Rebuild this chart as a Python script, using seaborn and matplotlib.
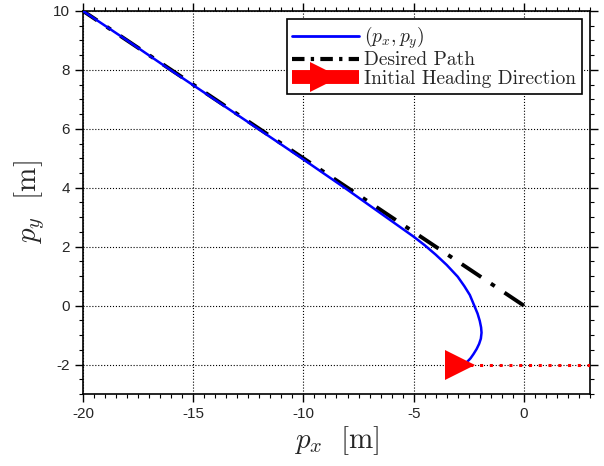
import numpy as np
import pandas as pd
import matplotlib
matplotlib.use("Agg")
import matplotlib.pyplot as plt
import seaborn as sns
from matplotlib.lines import Line2D

# trajectory
px = [-20.0, -18.0, -16.0, -14.0, -12.0, -10.0, -8.0, -7.0, -6.0, -5.0, -4.5,
      -4.0, -3.5, -3.0, -2.7, -2.45, -2.25, -2.1, -2.0, -1.94, -1.92, -1.95,
      -2.03, -2.14, -2.28, -2.42, -2.56, -2.72, -2.9]
py = [10.0, 9.0, 7.98, 6.98, 5.97, 4.96, 3.93, 3.4, 2.87, 2.34, 2.05,
      1.73, 1.38, 0.98, 0.66, 0.36, 0.0, -0.27, -0.52, -0.74, -0.92, -1.12,
      -1.3, -1.47, -1.64, -1.79, -1.9, -1.97, -2.0]

desired_x = [0.0, -20.0]
desired_y = [0.0, 10.0]

heading_x = [-2.9, 3.0]
heading_y = [-2.0, -2.0]

sns.set_style("ticks")
plt.rcParams["mathtext.fontset"] = "cm"
plt.rcParams["axes.unicode_minus"] = False
plt.rcParams["font.family"] = ["Liberation Sans", "DejaVu Sans"]

fig = plt.figure(figsize=(6.04, 4.66), dpi=100)
ax = fig.add_axes([0.1374, 0.1545, 0.8394, 0.822])

traj = pd.DataFrame({"x": px, "y": py})
des = pd.DataFrame({"x": desired_x, "y": desired_y})
head = pd.DataFrame({"x": heading_x, "y": heading_y})

sns.lineplot(data=head, x="x", y="y", ax=ax, color="red", lw=2.2,
             linestyle=(0, (1, 2.2)), sort=False, estimator=None, zorder=3)
sns.lineplot(data=des, x="x", y="y", ax=ax, color="black", lw=2.8,
             linestyle=(0, (6, 3, 1.2, 3)), sort=False, estimator=None, zorder=4)
sns.lineplot(data=traj, x="x", y="y", ax=ax, color="blue", lw=1.8,
             sort=False, estimator=None, zorder=5)
ax.plot(heading_x[0], heading_y[0], marker=">", color="red", ms=22,
        markeredgewidth=0, zorder=6)

ax.set_xlim(-20, 3)
ax.set_ylim(-3, 10)
ax.set_xticks(np.arange(-20, 1, 5))
ax.set_yticks(np.arange(-2, 11, 2))
ax.set_xticks(np.arange(-20, 3.01, 0.5), minor=True)
ax.set_yticks(np.arange(-3, 10.01, 0.5), minor=True)
ax.tick_params(which="both", direction="out", top=True, right=True,
               labeltop=False, labelright=False, color="black", labelsize=11)
ax.tick_params(which="major", length=6, width=1)
ax.tick_params(which="minor", length=3, width=0.8)
for s in ax.spines.values():
    s.set_color("black")
    s.set_linewidth(1.2)
ax.grid(True, which="major", linestyle=":", color="black", lw=0.8)

ax.set_xlabel(r"$p_x\ \ [\mathrm{m}]$", fontsize=21, labelpad=2)
ax.set_ylabel(r"$p_y\ \ [\mathrm{m}]$", fontsize=21, labelpad=4)

handles = [
    Line2D([], [], color="blue", lw=2),
    Line2D([], [], color="black", lw=3, linestyle=(0, (3, 1.5, 0.8, 1.5))),
    Line2D([], [], color="red", lw=10, marker=">", ms=22, markeredgewidth=0,
           solid_capstyle="butt"),
]
labels = [r"$(p_x, p_y)$", "Desired Path", "Initial Heading Direction"]
leg = ax.legend(handles, labels, loc="upper right", fancybox=False,
                framealpha=1, edgecolor="black", handlelength=3.4,
                handletextpad=0.3, borderaxespad=0.4, labelspacing=0.02,
                borderpad=0.3, prop={"family": "cmr10", "size": 14})
leg.get_frame().set_linewidth(1.2)

fig.savefig("out.png", dpi=100)
